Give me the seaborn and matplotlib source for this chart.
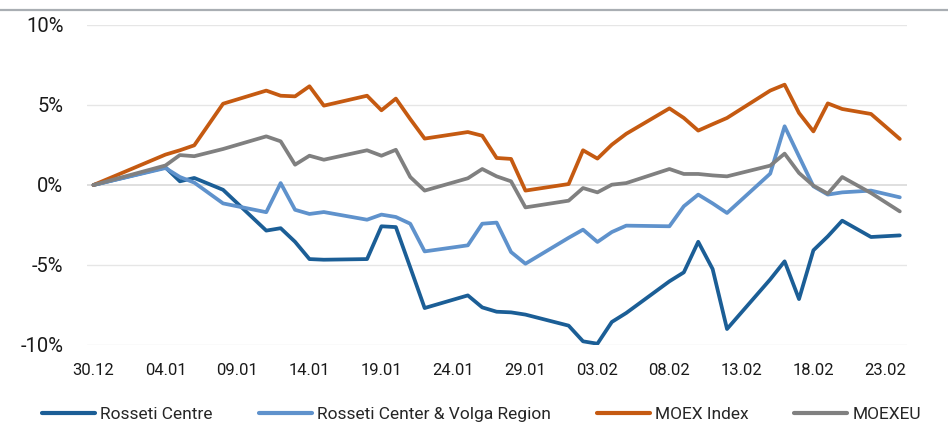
import pandas as pd
import matplotlib.pyplot as plt
import matplotlib.dates as mdates
from matplotlib.ticker import FuncFormatter
from matplotlib.lines import Line2D
import seaborn as sns

# trading days and % change since 30.12
dates = ["2020-12-30", "2021-01-04", "2021-01-05", "2021-01-06", "2021-01-08",
         "2021-01-11", "2021-01-12", "2021-01-13", "2021-01-14", "2021-01-15",
         "2021-01-18", "2021-01-19", "2021-01-20", "2021-01-21", "2021-01-22",
         "2021-01-25", "2021-01-26", "2021-01-27", "2021-01-28", "2021-01-29",
         "2021-02-01", "2021-02-02", "2021-02-03", "2021-02-04", "2021-02-05",
         "2021-02-08", "2021-02-09", "2021-02-10", "2021-02-11", "2021-02-12",
         "2021-02-15", "2021-02-16", "2021-02-17", "2021-02-18", "2021-02-19",
         "2021-02-20", "2021-02-22", "2021-02-24"]

rosseti_centre = [0, 1.1, 0.23, 0.44, -0.3,
                  -2.85, -2.7, -3.55, -4.63, -4.67,
                  -4.63, -2.58, -2.63, -5.15, -7.69,
                  -6.9, -7.65, -7.92, -7.96, -8.1,
                  -8.79, -9.77, -9.92, -8.56, -8.0,
                  -6.02, -5.46, -3.55, -5.25, -9.0,
                  -5.9, -4.77, -7.13, -4.08, -3.21,
                  -2.23, -3.25, -3.15]

rosseti_volga = [0, 1.06, 0.5, 0.15, -1.15,
                 -1.7, 0.12, -1.55, -1.81, -1.69,
                 -2.17, -1.85, -2.0, -2.42, -4.15,
                 -3.77, -2.42, -2.35, -4.19, -4.92,
                 -3.3, -2.79, -3.56, -2.94, -2.54,
                 -2.58, -1.33, -0.6, -1.15, -1.75,
                 0.71, 3.67, 1.79, -0.08, -0.6,
                 -0.46, -0.35, -0.77]

moex_index = [0, 1.9, 2.17, 2.48, 5.08,
              5.9, 5.58, 5.54, 6.17, 4.96,
              5.58, 4.67, 5.4, 4.12, 2.9,
              3.31, 3.08, 1.69, 1.63, -0.35,
              0.06, 2.17, 1.65, 2.52, 3.2,
              4.79, 4.19, 3.4, 3.8, 4.19,
              5.9, 6.27, 4.5, 3.35, 5.1,
              4.75, 4.44, 2.88]

moexeu = [0, 1.22, 1.87, 1.8, 2.25,
          3.04, 2.73, 1.27, 1.83, 1.58,
          2.17, 1.83, 2.2, 0.5, -0.35,
          0.42, 1.0, 0.54, 0.23, -1.4,
          -0.98, -0.19, -0.46, 0.02, 0.12,
          1.0, 0.69, 0.69, 0.6, 0.54,
          1.21, 1.96, 0.75, -0.04, -0.54,
          0.5, -0.5, -1.65]

series_names = ["Rosseti Centre", "Rosseti Center & Volga Region", "MOEX Index", "MOEXEU"]
colors = ["#1b5e96", "#5f92cc", "#c55a11", "#808080"]

df = pd.DataFrame({"Date": pd.to_datetime(dates),
                   series_names[0]: rosseti_centre,
                   series_names[1]: rosseti_volga,
                   series_names[2]: moex_index,
                   series_names[3]: moexeu})
long = df.melt(id_vars="Date", var_name="Series", value_name="Change")

sns.set_style("white")
plt.rcParams["font.family"] = ["Roboto", "DejaVu Sans"]

fig = plt.figure(figsize=(9.48, 4.25), dpi=100)
ax = fig.add_axes([87 / 948, 1 - 345 / 425, 820 / 948, 320 / 425])

sns.lineplot(data=long, x="Date", y="Change", hue="Series", hue_order=series_names,
             palette=dict(zip(series_names, colors)), lw=2.7, errorbar=None,
             legend=False, ax=ax)

# axes
start = mdates.date2num(pd.Timestamp("2020-12-30"))
end = mdates.date2num(pd.Timestamp("2021-02-24"))
ax.set_xlim(start - 0.45, end + 0.5)
ax.set_ylim(-10, 10)
ax.set_yticks([-10, -5, 0, 5, 10])
ax.yaxis.set_major_formatter(FuncFormatter(lambda v, p: f"{v:.0f}%"))
ax.set_xticks(pd.date_range("2020-12-30", periods=12, freq="5D"))
ax.xaxis.set_major_formatter(mdates.DateFormatter("%d.%m"))
ax.tick_params(axis="y", length=0, pad=17, labelsize=14.5, labelcolor="#1a1a1a")
ax.tick_params(axis="x", length=0, pad=13, labelsize=12, labelcolor="#1a1a1a")
ax.set_xlabel("")
ax.set_ylabel("")
for s in ax.spines.values():
    s.set_visible(False)
ax.grid(False)
for v in [-10, -5, 5, 10]:
    ax.axhline(v, color="#e6e6e6", lw=1, zorder=0)
ax.axhline(0, color="#d9d9d9", lw=1.2, zorder=0)

# thin separator at the top
fig.add_artist(Line2D([0, 1], [1 - 10 / 425, 1 - 10 / 425], transform=fig.transFigure,
                      color="#a9aeb3", lw=1.6))

handles = [Line2D([0], [0], color=c, lw=3) for c in colors]
fig.legend(handles, series_names, loc="center", bbox_to_anchor=(0.508, 0.024), ncol=4,
           frameon=False, fontsize=12.5, handlelength=3.05, handletextpad=0.29,
           columnspacing=2.65)

plt.savefig("out.png", dpi=100)
